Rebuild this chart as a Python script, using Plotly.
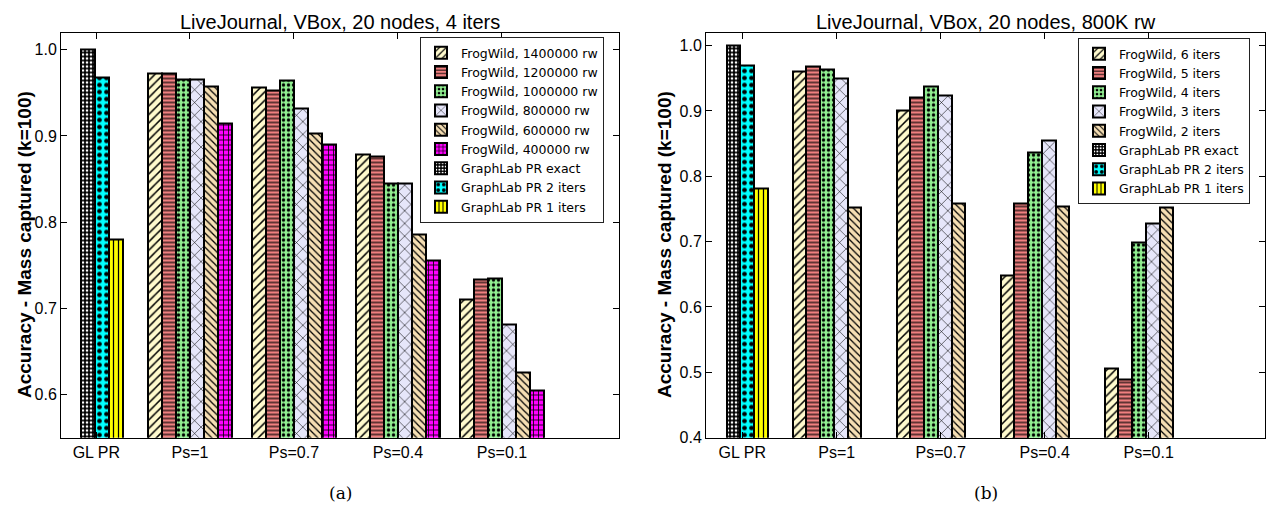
import plotly.graph_objects as go

# ---------------- data ----------------
group_labels = ["Ps=1", "Ps=0.7", "Ps=0.4", "Ps=0.1"]
gl_label = "GL PR"

# (a) LiveJournal, 4 iters, varying number of random walkers
rw_names = ["FrogWild, 1400000 rw", "FrogWild, 1200000 rw", "FrogWild, 1000000 rw",
            "FrogWild, 800000 rw", "FrogWild, 600000 rw", "FrogWild, 400000 rw"]
rw_1400000 = [0.973, 0.956, 0.879, 0.710]
rw_1200000 = [0.972, 0.953, 0.876, 0.734]
rw_1000000 = [0.965, 0.964, 0.845, 0.735]
rw_800000 = [0.965, 0.932, 0.845, 0.681]
rw_600000 = [0.957, 0.903, 0.786, 0.626]
rw_400000 = [0.915, 0.890, 0.755, 0.605]

# (b) LiveJournal, 800K random walkers, varying iterations
it_names = ["FrogWild, 6 iters", "FrogWild, 5 iters", "FrogWild, 4 iters",
            "FrogWild, 3 iters", "FrogWild, 2 iters"]
it_6 = [0.961, 0.901, 0.648, 0.506]
it_5 = [0.968, 0.921, 0.758, 0.489]
it_4 = [0.963, 0.937, 0.837, 0.699]
it_3 = [0.949, 0.924, 0.855, 0.727]
it_2 = [0.753, 0.759, 0.754, 0.752]

# GraphLab PageRank baselines: exact, 2 iters, 1 iters
gl_names = ["GraphLab PR exact", "GraphLab PR 2 iters", "GraphLab PR 1 iters"]
gl_a = [1.000, 0.968, 0.780]
gl_b = [1.000, 0.969, 0.781]

# ---------------- styles ----------------
fw_styles = [
    dict(color="#FFFACD", shape="/", size=6, solidity=0.25, fg="black"),
    dict(color="#F08080", shape="-", size=4, solidity=0.3, fg="black"),
    dict(color="#90EE90", shape=".", size=5, solidity=0.35, fg="black"),
    dict(color="#E6E6FA", shape="x", size=9, solidity=0.12, fg="black"),
    dict(color="#F5DEB3", shape="\\", size=5, solidity=0.25, fg="black"),
    dict(color="#FF00FF", shape="+", size=5, solidity=0.3, fg="black"),
]
gl_styles = [
    dict(color="#000000", shape=".", size=4, solidity=0.35, fg="white"),
    dict(color="#00FFFF", shape=".", size=7, solidity=0.35, fg="black"),
    dict(color="#FFFF00", shape="|", size=5, solidity=0.25, fg="black"),
]

W, H = 1270, 513
TICK_FONT = dict(family="Liberation Sans, Arial, sans-serif", size=16, color="black")

fig = go.Figure()


def add_bar(xs, ys, width, st, name, xa, ya, legend):
    fig.add_trace(go.Bar(
        x=xs, y=ys, width=width, name=name,
        xaxis=xa, yaxis=ya, legend=legend,
        marker=dict(
            color=st["color"],
            line=dict(color="black", width=2),
            pattern=dict(shape=st["shape"], size=st["size"], solidity=st["solidity"],
                         fgcolor=st["fg"], bgcolor=st["color"], fillmode="replace"),
        ),
        hoverinfo="skip",
    ))


groups = [1, 2, 3, 4]

# ---- panel (a) ----
wa = 0.135
gl_start_a = -0.05
for j, (vals, nm) in enumerate(zip([rw_1400000, rw_1200000, rw_1000000, rw_800000, rw_600000, rw_400000], rw_names)):
    xs = [k + (j - 2.5) * wa for k in groups]
    add_bar(xs, vals, wa, fw_styles[j], nm, "x", "y", "legend")
for j, (v, nm) in enumerate(zip(gl_a, gl_names)):
    add_bar([gl_start_a + (j + 0.5) * wa], [v], wa, gl_styles[j], nm, "x", "y", "legend")

# ---- panel (b) ----
wb = 0.132
gl_start_b = -0.058
for j, (vals, nm) in enumerate(zip([it_6, it_5, it_4, it_3, it_2], it_names)):
    xs = [k - 0.423 + (j + 0.5) * wb for k in groups]
    add_bar(xs, vals, wb, fw_styles[j], nm, "x2", "y2", "legend2")
for j, (v, nm) in enumerate(zip(gl_b, gl_names)):
    add_bar([gl_start_b + (j + 0.5) * wb], [v], wb, gl_styles[j], nm, "x2", "y2", "legend2")

# ---------------- axes ----------------
ydom = [(H - 437.7) / H, (H - 32.5) / H]
xdom_a = [61 / W, 619 / W]
xdom_b = [706 / W, 1265 / W]

common_axis = dict(showline=True, linecolor="black", linewidth=1, mirror="ticks",
                   ticks="inside", ticklen=6, tickcolor="black", showgrid=False,
                   zeroline=False, tickfont=TICK_FONT, tickangle=0, automargin=False)

fig.update_layout(
    template="none",
    width=W, height=H,
    margin=dict(l=0, r=0, t=0, b=0, autoexpand=False),
    paper_bgcolor="white", plot_bgcolor="white",
    barmode="overlay", bargap=0,
    xaxis=dict(domain=xdom_a, range=[-0.240, 5.125], anchor="y",
               tickvals=[0.10] + groups, ticktext=[gl_label] + group_labels, **common_axis),
    yaxis=dict(domain=ydom, range=[0.55, 1.02], anchor="x",
               tickvals=[0.6, 0.7, 0.8, 0.9, 1.0], tickformat=".1f", **common_axis),
    xaxis2=dict(domain=xdom_b, range=[-0.257, 5.118], anchor="y2",
                tickvals=[0.092] + groups, ticktext=[gl_label] + group_labels, **common_axis),
    yaxis2=dict(domain=ydom, range=[0.40, 1.02], anchor="x2",
                tickvals=[0.4, 0.5, 0.6, 0.7, 0.8, 0.9, 1.0], tickformat=".1f", **common_axis),
)

legend_common = dict(
    xref="container", yref="container", xanchor="left", yanchor="top",
    bgcolor="white", bordercolor="#222222", borderwidth=1,
    font=dict(family="DejaVu Sans", size=12.5, color="black"),
    tracegroupgap=0, itemwidth=30, traceorder="normal",
)
fig.update_layout(
    legend=dict(x=420 / W, y=1 - 37 / H, **legend_common),
    legend2=dict(x=1078 / W, y=1 - 38 / H, **legend_common),
)

# ---------------- titles and captions ----------------
TITLE_FONT = dict(family="Liberation Sans, Arial, sans-serif", size=20, color="black")
YLAB_FONT = dict(family="Liberation Sans, Arial, sans-serif", size=19, color="black")
CAP_FONT = dict(family="DejaVu Serif, Liberation Serif, serif", size=17, color="black")

ann = []
for cx, title, cap in [((61 + 619) / 2, "LiveJournal, VBox, 20 nodes, 4 iters", "(a)"),
                       ((706 + 1265) / 2, "LiveJournal, VBox, 20 nodes, 800K rw", "(b)")]:
    ann.append(dict(x=cx / W, y=1 - 22 / H, xref="paper", yref="paper", text=title,
                    showarrow=False, xanchor="center", yanchor="middle", font=TITLE_FONT))
    ann.append(dict(x=cx / W, y=1 - 493 / H, xref="paper", yref="paper", text=cap,
                    showarrow=False, xanchor="center", yanchor="middle", font=CAP_FONT))
for lx in (24, 664):
    ann.append(dict(x=lx / W, y=1 - 245 / H, xref="paper", yref="paper",
                    text="<b>Accuracy - Mass captured (k=100)</b>", textangle=-90,
                    showarrow=False, xanchor="center", yanchor="middle", font=YLAB_FONT))
fig.update_layout(annotations=ann)

fig.write_html("out.html")
